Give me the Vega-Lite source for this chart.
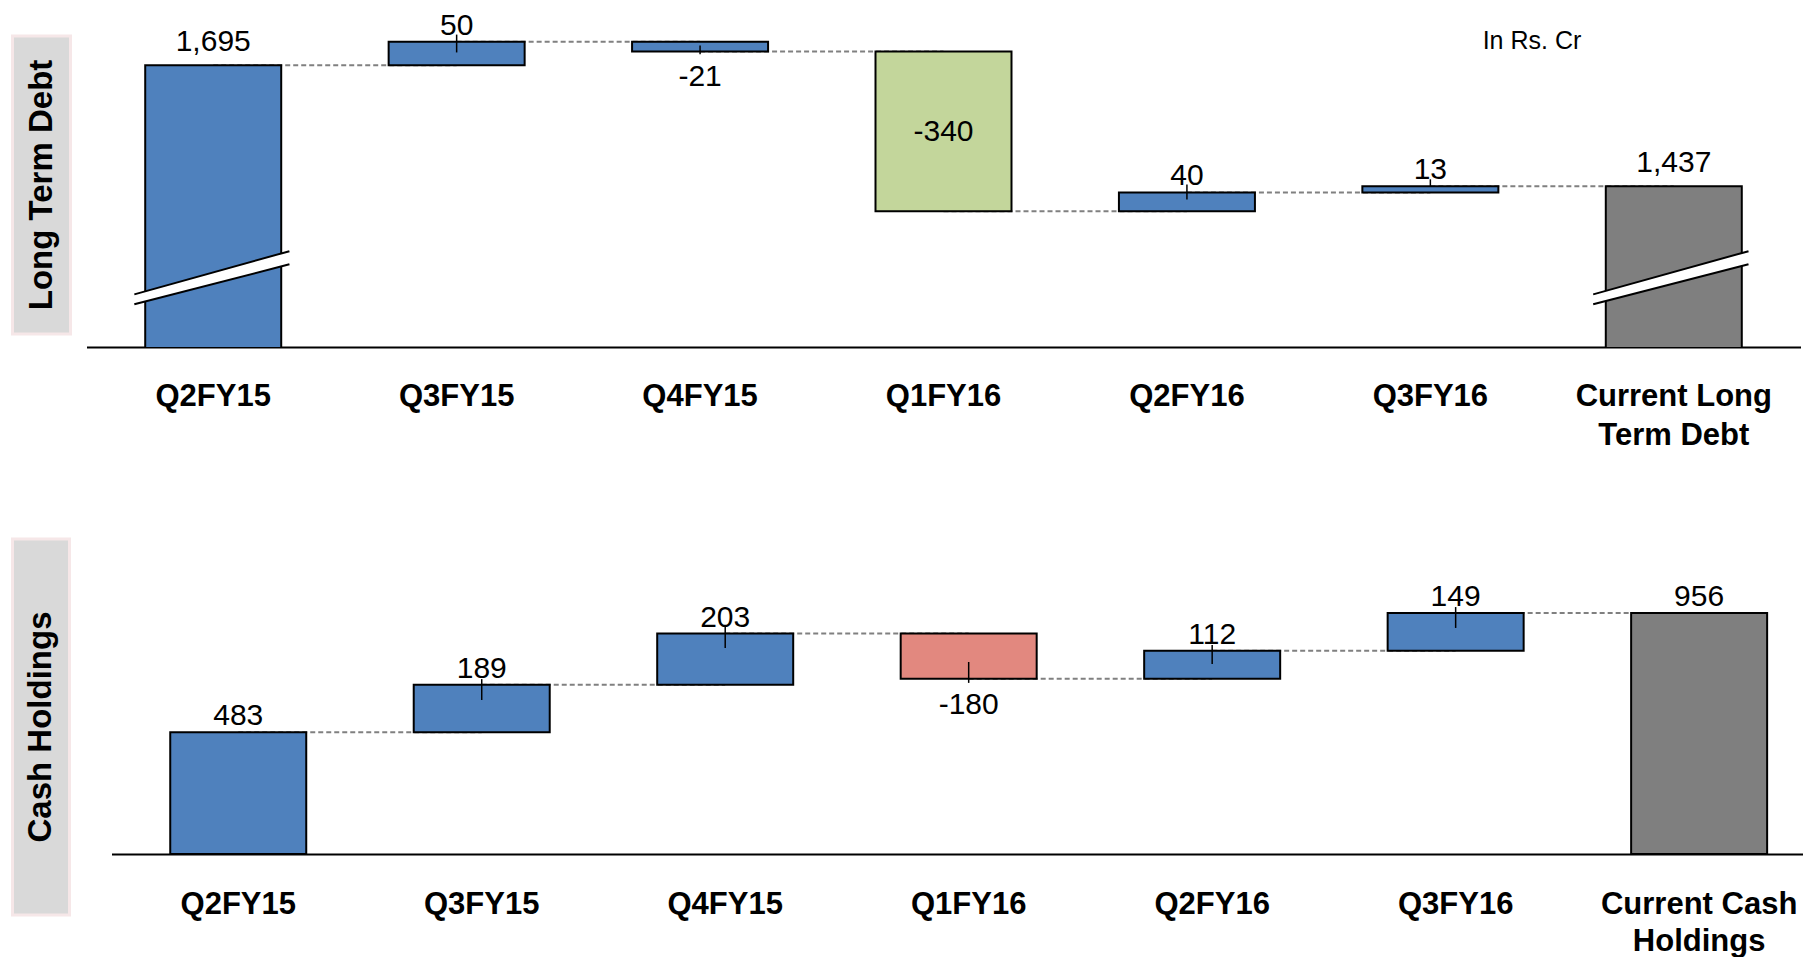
{
  "$schema": "https://vega.github.io/schema/vega-lite/v6.json",
  "padding": {"left": 10.5, "top": 10, "right": 0, "bottom": 0},
  "background": "white",
  "config": {"view": {"stroke": null}, "font": "Liberation Sans"},
  "datasets": {
    "ltd": [
      {"i": 0, "next": 1, "cat": "Q2FY15", "start": 0, "end": 1695, "kind": "total", "lbl": "1,695", "place": "above"},
      {"i": 1, "next": 2, "cat": "Q3FY15", "start": 1695, "end": 1745, "kind": "change", "lbl": "50", "place": "above", "tlo": 1722, "thi": 1760},
      {"i": 2, "next": 3, "cat": "Q4FY15", "start": 1745, "end": 1724, "kind": "change", "lbl": "-21", "place": "below", "tlo": 1718, "thi": 1737},
      {"i": 3, "next": 4, "cat": "Q1FY16", "start": 1724, "end": 1384, "kind": "major-decrease", "lbl": "-340", "place": "inside"},
      {"i": 4, "next": 5, "cat": "Q2FY16", "start": 1384, "end": 1424, "kind": "change", "lbl": "40", "place": "above", "tlo": 1409, "thi": 1441},
      {"i": 5, "next": 6, "cat": "Q3FY16", "start": 1424, "end": 1437, "kind": "change", "lbl": "13", "place": "above", "tlo": 1437, "thi": 1452},
      {"i": 6, "cat": "Current Long\nTerm Debt", "start": 0, "end": 1437, "kind": "current", "lbl": "1,437", "place": "above"}
    ],
    "cash": [
      {"i": 0, "next": 1, "cat": "Q2FY15", "start": 0, "end": 483, "kind": "total", "lbl": "483", "place": "above"},
      {"i": 1, "next": 2, "cat": "Q3FY15", "start": 483, "end": 672, "kind": "change", "lbl": "189", "place": "above", "tlo": 611, "thi": 694},
      {"i": 2, "next": 3, "cat": "Q4FY15", "start": 672, "end": 875, "kind": "change", "lbl": "203", "place": "above", "tlo": 817, "thi": 901},
      {"i": 3, "next": 4, "cat": "Q1FY16", "start": 875, "end": 695, "kind": "decrease", "lbl": "-180", "place": "below", "tlo": 679, "thi": 762},
      {"i": 4, "next": 5, "cat": "Q2FY16", "start": 695, "end": 807, "kind": "change", "lbl": "112", "place": "above", "tlo": 754, "thi": 829},
      {"i": 5, "next": 6, "cat": "Q3FY16", "start": 807, "end": 956, "kind": "change", "lbl": "149", "place": "above", "tlo": 897, "thi": 980},
      {"i": 6, "cat": "Current Cash\nHoldings", "start": 0, "end": 956, "kind": "current", "lbl": "956", "place": "above"}
    ],
    "breaks": [
      {"brk": "first", "i": -0.324, "lo": 1186, "hi": 1207},
      {"brk": "first", "i": 0.313, "lo": 1271, "hi": 1299},
      {"brk": "last", "i": 5.669, "lo": 1186, "hi": 1207},
      {"brk": "last", "i": 6.307, "lo": 1271, "hi": 1299}
    ]
  },
  "spacing": 86,
  "vconcat": [
    {
      "hconcat": [
        {
          "width": 58, "height": 298,
          "view": {"fill": "#d9d9d9", "stroke": "#f6e7e8", "strokeWidth": 3},
          "data": {"values": [{"name": "Long Term Debt"}]},
          "mark": {"type": "text", "angle": 270, "align": "center", "baseline": "middle", "fontWeight": "bold", "fontSize": 33, "color": "black"},
          "encoding": {"text": {"field": "name"}}
        },
        {
          "width": 1714, "height": 311,
          "data": {"name": "ltd"},
          "layer": [
            {
              "transform": [{"filter": "isValid(datum.next)"}],
              "mark": {"type": "rule", "color": "#808080", "strokeWidth": 2, "strokeDash": [5, 3]},
              "encoding": {
                "x": {"field": "i", "type": "quantitative", "scale": {"domain": [-0.5, 6.5], "nice": false, "zero": false}, "axis": {"labels": false, "ticks": false, "grid": false, "title": null, "domainColor": "black", "domainWidth": 2}},
                "x2": {"field": "next"},
                "y": {"field": "end", "type": "quantitative", "scale": {"domain": [1095, 1757], "nice": false, "zero": false}, "axis": null}
              }
            },
            {
              "mark": {"type": "bar", "width": 136, "stroke": "black", "strokeWidth": 2, "clip": true},
              "encoding": {
                "x": {"field": "i", "type": "quantitative", "scale": {"domain": [-0.5, 6.5], "nice": false, "zero": false}, "axis": {"labels": false, "ticks": false, "grid": false, "title": null, "domainColor": "black", "domainWidth": 2}},
                "y": {"field": "start", "type": "quantitative", "scale": {"domain": [1095, 1757], "nice": false, "zero": false}, "axis": null},
                "y2": {"field": "end"},
                "color": {"field": "kind", "type": "nominal", "legend": null,
                          "scale": {"domain": ["total", "change", "major-decrease", "decrease", "current"], "range": ["#4f81bd", "#4f81bd", "#c3d69b", "#e2887f", "#7f7f7f"]}}
              }
            },
            {
              "data": {"name": "breaks"},
              "mark": {"type": "area", "color": "white", "opacity": 1},
              "encoding": {
                "x": {"field": "i", "type": "quantitative", "scale": {"domain": [-0.5, 6.5], "nice": false, "zero": false}, "axis": {"labels": false, "ticks": false, "grid": false, "title": null, "domainColor": "black", "domainWidth": 2}},
                "y": {"field": "lo", "type": "quantitative", "scale": {"domain": [1095, 1757], "nice": false, "zero": false}, "axis": null},
                "y2": {"field": "hi"},
                "detail": {"field": "brk"}
              }
            },
            {
              "data": {"name": "breaks"},
              "mark": {"type": "line", "color": "black", "strokeWidth": 2},
              "encoding": {
                "x": {"field": "i", "type": "quantitative", "scale": {"domain": [-0.5, 6.5], "nice": false, "zero": false}, "axis": {"labels": false, "ticks": false, "grid": false, "title": null, "domainColor": "black", "domainWidth": 2}},
                "y": {"field": "lo", "type": "quantitative", "scale": {"domain": [1095, 1757], "nice": false, "zero": false}, "axis": null},
                "detail": {"field": "brk"}
              }
            },
            {
              "data": {"name": "breaks"},
              "mark": {"type": "line", "color": "black", "strokeWidth": 2},
              "encoding": {
                "x": {"field": "i", "type": "quantitative", "scale": {"domain": [-0.5, 6.5], "nice": false, "zero": false}, "axis": {"labels": false, "ticks": false, "grid": false, "title": null, "domainColor": "black", "domainWidth": 2}},
                "y": {"field": "hi", "type": "quantitative", "scale": {"domain": [1095, 1757], "nice": false, "zero": false}, "axis": null},
                "detail": {"field": "brk"}
              }
            },
            {
              "transform": [{"filter": "isValid(datum.tlo)"}],
              "mark": {"type": "rule", "color": "black", "strokeWidth": 1.5},
              "encoding": {
                "x": {"field": "i", "type": "quantitative", "scale": {"domain": [-0.5, 6.5], "nice": false, "zero": false}, "axis": {"labels": false, "ticks": false, "grid": false, "title": null, "domainColor": "black", "domainWidth": 2}},
                "y": {"field": "tlo", "type": "quantitative", "scale": {"domain": [1095, 1757], "nice": false, "zero": false}, "axis": null},
                "y2": {"field": "thi"}
              }
            },
            {
              "transform": [{"filter": "datum.place == 'above' && datum.kind == 'change'"}],
              "mark": {"type": "text", "fontSize": 30, "baseline": "alphabetic", "dy": -7, "color": "black"},
              "encoding": {
                "x": {"field": "i", "type": "quantitative", "scale": {"domain": [-0.5, 6.5], "nice": false, "zero": false}, "axis": {"labels": false, "ticks": false, "grid": false, "title": null, "domainColor": "black", "domainWidth": 2}},
                "y": {"field": "end", "type": "quantitative", "scale": {"domain": [1095, 1757], "nice": false, "zero": false}, "axis": null},
                "text": {"field": "lbl"}
              }
            },
            {
              "transform": [{"filter": "datum.place == 'above' && datum.kind != 'change'"}],
              "mark": {"type": "text", "fontSize": 30, "baseline": "alphabetic", "dy": -14, "color": "black"},
              "encoding": {
                "x": {"field": "i", "type": "quantitative", "scale": {"domain": [-0.5, 6.5], "nice": false, "zero": false}, "axis": {"labels": false, "ticks": false, "grid": false, "title": null, "domainColor": "black", "domainWidth": 2}},
                "y": {"field": "end", "type": "quantitative", "scale": {"domain": [1095, 1757], "nice": false, "zero": false}, "axis": null},
                "text": {"field": "lbl"}
              }
            },
            {
              "transform": [{"filter": "datum.place == 'below'"}],
              "mark": {"type": "text", "fontSize": 30, "baseline": "top", "dy": 10, "color": "black"},
              "encoding": {
                "x": {"field": "i", "type": "quantitative", "scale": {"domain": [-0.5, 6.5], "nice": false, "zero": false}, "axis": {"labels": false, "ticks": false, "grid": false, "title": null, "domainColor": "black", "domainWidth": 2}},
                "y": {"field": "end", "type": "quantitative", "scale": {"domain": [1095, 1757], "nice": false, "zero": false}, "axis": null},
                "text": {"field": "lbl"}
              }
            },
            {
              "transform": [{"filter": "datum.place == 'inside'"}],
              "mark": {"type": "text", "fontSize": 30, "baseline": "middle", "dy": 80, "color": "black"},
              "encoding": {
                "x": {"field": "i", "type": "quantitative", "scale": {"domain": [-0.5, 6.5], "nice": false, "zero": false}, "axis": {"labels": false, "ticks": false, "grid": false, "title": null, "domainColor": "black", "domainWidth": 2}},
                "y": {"field": "start", "type": "quantitative", "scale": {"domain": [1095, 1757], "nice": false, "zero": false}, "axis": null},
                "text": {"field": "lbl"}
              }
            },
            {
              "mark": {"type": "text", "fontSize": 31, "fontWeight": "bold", "baseline": "top", "dy": 35, "lineBreak": "\n", "lineHeight": 39, "color": "black"},
              "encoding": {
                "x": {"field": "i", "type": "quantitative", "scale": {"domain": [-0.5, 6.5], "nice": false, "zero": false}, "axis": {"labels": false, "ticks": false, "grid": false, "title": null, "domainColor": "black", "domainWidth": 2}},
                "y": {"value": "height"},
                "text": {"field": "cat"}
              }
            },
            {
              "data": {"values": [{"note": "In Rs. Cr"}]},
              "mark": {"type": "text", "fontSize": 25, "align": "right", "baseline": "alphabetic", "color": "black"},
              "encoding": {
                "x": {"datum": 5.62, "type": "quantitative"},
                "y": {"datum": 1729, "type": "quantitative", "scale": {"domain": [1095, 1757], "nice": false, "zero": false}, "axis": null},
                "text": {"field": "note"}
              }
            }
          ]
        }
      ],
      "spacing": 16,
      "bounds": "flush"
    },
    {
      "hconcat": [
        {
          "width": 57, "height": 376,
          "view": {"fill": "#d9d9d9", "stroke": "#f6e7e8", "strokeWidth": 3},
          "data": {"values": [{"name": "Cash Holdings"}]},
          "mark": {"type": "text", "angle": 270, "align": "center", "baseline": "middle", "fontWeight": "bold", "fontSize": 33, "color": "black"},
          "encoding": {"text": {"field": "name"}}
        },
        {
          "width": 1691, "height": 315,
          "data": {"name": "cash"},
          "encoding": {
            "x": {"field": "i", "type": "quantitative", "scale": {"domain": [-0.5, 6.404], "nice": false, "zero": false},
                  "axis": {"labels": false, "ticks": false, "grid": false, "title": null, "domainColor": "black", "domainWidth": 2}}
          },
          "layer": [
            {
              "transform": [{"filter": "isValid(datum.next)"}],
              "mark": {"type": "rule", "color": "#808080", "strokeWidth": 2, "strokeDash": [5, 3]},
              "encoding": {"x2": {"field": "next"}, "y": {"field": "end", "type": "quantitative", "scale": {"domain": [0, 1250], "nice": false}, "axis": null}}
            },
            {
              "mark": {"type": "bar", "width": 136, "stroke": "black", "strokeWidth": 2},
              "encoding": {
                "y": {"field": "start", "type": "quantitative", "scale": {"domain": [0, 1250], "nice": false}, "axis": null},
                "y2": {"field": "end"},
                "color": {"field": "kind", "type": "nominal", "legend": null,
                          "scale": {"domain": ["total", "change", "major-decrease", "decrease", "current"], "range": ["#4f81bd", "#4f81bd", "#c3d69b", "#e2887f", "#7f7f7f"]}}
              }
            },
            {
              "transform": [{"filter": "isValid(datum.tlo)"}],
              "mark": {"type": "rule", "color": "black", "strokeWidth": 1.5},
              "encoding": {"y": {"field": "tlo", "type": "quantitative", "scale": {"domain": [0, 1250], "nice": false}, "axis": null}, "y2": {"field": "thi"}}
            },
            {
              "transform": [{"filter": "datum.place == 'above'"}],
              "mark": {"type": "text", "fontSize": 30, "baseline": "alphabetic", "dy": -7, "color": "black"},
              "encoding": {"y": {"field": "end", "type": "quantitative", "scale": {"domain": [0, 1250], "nice": false}, "axis": null}, "text": {"field": "lbl"}}
            },
            {
              "transform": [{"filter": "datum.place == 'below'"}],
              "mark": {"type": "text", "fontSize": 30, "baseline": "top", "dy": 11, "color": "black"},
              "encoding": {"y": {"field": "end", "type": "quantitative", "scale": {"domain": [0, 1250], "nice": false}, "axis": null}, "text": {"field": "lbl"}}
            },
            {
              "mark": {"type": "text", "fontSize": 31, "fontWeight": "bold", "baseline": "top", "dy": 36, "lineBreak": "\n", "lineHeight": 37, "color": "black"},
              "encoding": {"y": {"value": "height"}, "text": {"field": "cat"}}
            }
          ]
        }
      ],
      "spacing": 42,
      "bounds": "flush"
    }
  ]
}
